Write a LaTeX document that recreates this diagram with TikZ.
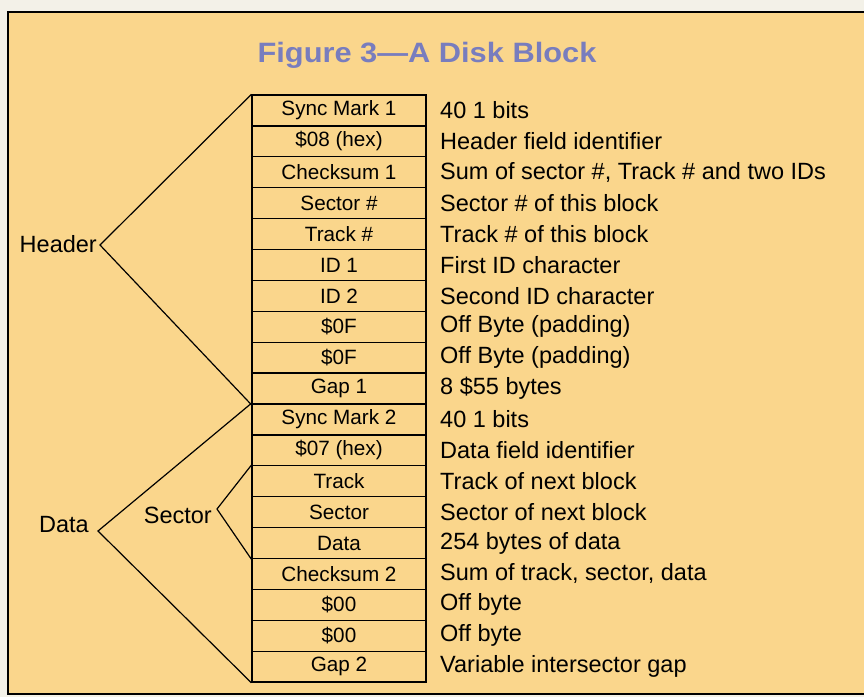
\documentclass[tikz,border=0pt]{standalone}
\usepackage{fontspec}
\setmainfont{Liberation Sans}
\newfontfamily\titlefont[FakeStretch=1.1]{Liberation Sans}
\definecolor{paper}{RGB}{243,241,232}
\definecolor{panel}{RGB}{250,214,140}
\definecolor{titleblue}{RGB}{120,125,190}
\tikzset{
  cell/.style={draw, line width=1.3pt, minimum width=174pt, minimum height=30.9pt,
    inner sep=0pt, font=\fontsize{20.7}{22}\selectfont},
  note/.style={anchor=west, inner sep=0pt, font=\fontsize{23.5}{25}\selectfont},
  side/.style={anchor=east, inner sep=0pt, font=\fontsize{23.5}{25}\selectfont},
  brace/.style={line width=1.2pt}
}
\begin{document}
\begin{tikzpicture}[x=1pt,y=-1pt]

        % page and panel
        \fill[paper] (0,0) rectangle (864,697);
        \useasboundingbox (0,0) rectangle (864,697);
        \fill[panel] (8,12) rectangle (866,694);
        \draw[line width=1.5pt] (866,12) -- (8,12) -- (8,694) -- (866,694);

        \node[anchor=base, text=titleblue, font=\titlefont\bfseries\fontsize{28}{30}\selectfont]
            (title) at (427,62) {Figure 3\textemdash A Disk Block};

        % the block, one row per field
        \foreach \lab/\desc [count=\i] in {
            Sync Mark 1/40 1 bits,
            \$08 (hex)/Header field identifier,
            Checksum 1/{Sum of sector \#, Track \# and two IDs},
            Sector \#/Sector \# of this block,
            Track \#/Track \# of this block,
            ID 1/First ID character,
            ID 2/Second ID character,
            \$0F/Off Byte (padding),
            \$0F/Off Byte (padding),
            Gap 1/8 \$55 bytes,
            Sync Mark 2/40 1 bits,
            \$07 (hex)/Data field identifier,
            Track/Track of next block,
            Sector/Sector of next block,
            Data/254 bytes of data,
            Checksum 2/{Sum of track, sector, data},
            \$00/Off byte,
            \$00/Off byte,
            Gap 2/Variable intersector gap}
        {
            \node[cell] (r\i) at (339,{95+30.9*(\i-0.5)}) {\lab};
            \node[note] (d\i) at (440,{95+30.9*(\i-0.5)}) {\desc};
        }

        % groups
        \node[side] (hdr) at (97,244) {Header};
        \node[side] (dat) at (89,525) {Data};
        \node[side] (sec) at (212,515) {Sector};
        \coordinate (hdrTip) at (100,245);
        \coordinate (datTip) at (98,531);
        \coordinate (secTip) at (217,509);

        \draw[brace] (r1.north west) -- (hdrTip) -- (r10.south west);
        \draw[brace] (r11.north west) -- (datTip) -- (r19.south west);
        \draw[brace] (r13.north west) -- (secTip) -- (r15.south west);
    \end{tikzpicture}
\end{document}
